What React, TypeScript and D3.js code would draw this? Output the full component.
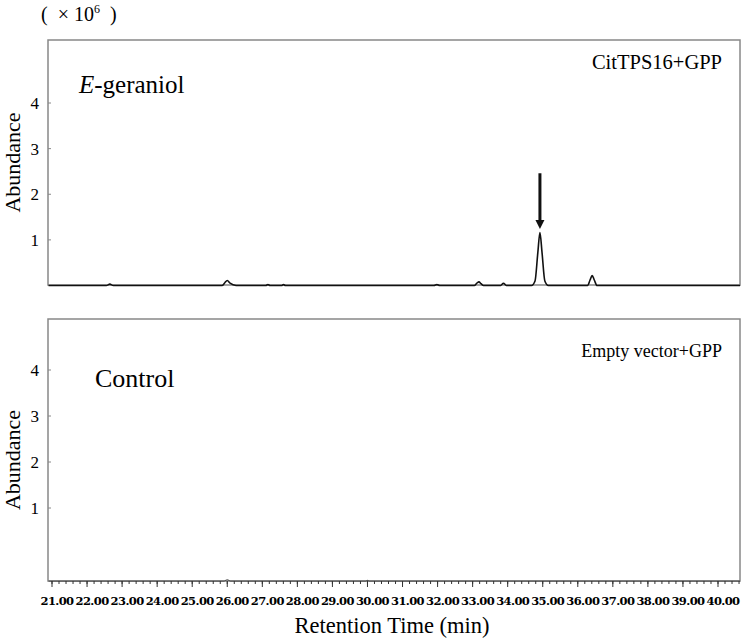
import React from 'react';
import * as d3 from 'd3';

// trace (time in min, abundance in 10^6)
const geraniolTime = [
  20.9, 22.55, 22.65, 22.75, 25.85, 25.93, 26.0, 26.08, 26.25, 27.1, 27.16, 27.22,
  27.55, 27.6, 27.66, 31.9, 31.98, 32.06, 33.05, 33.12, 33.18, 33.24, 33.31,
  33.8, 33.88, 33.96, 34.68, 34.78, 34.86, 34.92, 34.98, 35.06, 35.16,
  36.28, 36.35, 36.41, 36.47, 36.55, 40.63,
];
const geraniolAbund = [
  0, 0, 0.03, 0, 0, 0.06, 0.11, 0.05, 0, 0, 0.02, 0,
  0, 0.02, 0, 0, 0.02, 0, 0, 0.05, 0.08, 0.04, 0,
  0, 0.05, 0, 0, 0.1, 0.72, 1.16, 0.72, 0.1, 0,
  0, 0.12, 0.22, 0.12, 0, 0,
];
const controlTime = [20.9, 25.9, 26.0, 26.1, 29.95, 30.0, 30.05, 40.63];
const controlAbund = [-0.59, -0.59, -0.56, -0.59, -0.59, -0.575, -0.59, -0.59];

const yTicks = [1, 2, 3, 4];
const xTicks = d3.range(21, 40.001, 1);
const xMinor = d3.range(21, 40.601, 0.2);
const arrowTime = 34.92;
const arrowFrom = 2.46;
const arrowTo = 1.24;

const serif = '"Liberation Serif", "Times New Roman", serif';
const nb = '\u00A0';

export default function App() {
  const left = 48;
  const right = 740;
  const x = d3.scaleLinear().domain([21, 40]).range([52, 718]);
  const x0 = x.invert(left);
  const x1 = x.invert(right);

  const top = { y0: 40, y1: 285 };
  const bot = { y0: 319, y1: 581 };
  const yTop = d3.scaleLinear().domain([0, 4]).range([285.5, 103]);
  const yBot = d3.scaleLinear().domain([0, 4]).range([554, 370]);

  const lineTop = d3
    .line<number>()
    .x((d, i) => x(geraniolTime[i]))
    .y((d) => yTop(d))
    .curve(d3.curveMonotoneX);
  const lineBot = d3
    .line<number>()
    .x((d, i) => x(controlTime[i]))
    .y((d) => yBot(d))
    .curve(d3.curveMonotoneX);

  const yAxis = (y: d3.ScaleLinear<number, number>) =>
    yTicks.map((t) => (
      <g key={t}>
        <line x1={left} x2={left + 3} y1={y(t)} y2={y(t)} stroke="#888" />
        <text x={39} y={y(t) + 6} textAnchor="end" fontSize={17}>
          {t}
        </text>
      </g>
    ));

  const ax = x(arrowTime);

  return (
    <svg width={743} height={640} style={{ display: 'block', position: 'absolute', left: 0, top: 0 }} fontFamily={serif}>
      <rect width={743} height={640} fill="#fff" />
      <text x={41} y={21} fontSize={20}>
        {`(${nb}${nb}×${nb}10`}
        <tspan fontSize={12} dy={-8}>6</tspan>
        <tspan dy={8}>{`${nb}${nb})`}</tspan>
      </text>

      {/* top panel */}
      <rect x={left} y={top.y0} width={right - left} height={top.y1 - top.y0} fill="none" stroke="#888" strokeWidth={1.5} />
      {yAxis(yTop)}
      <path d={lineTop(geraniolAbund) || ''} fill="none" stroke="#111" strokeWidth={1.6} />
      <line x1={ax} x2={ax} y1={yTop(arrowFrom)} y2={yTop(arrowTo) - 8} stroke="#111" strokeWidth={3} />
      <path d={`M${ax - 4.5},${yTop(arrowTo) - 9} L${ax + 4.5},${yTop(arrowTo) - 9} L${ax},${yTop(arrowTo)} Z`} fill="#111" />
      <text x={79} y={93} fontSize={25}>
        <tspan fontStyle="italic">E</tspan>-geraniol
      </text>
      <text x={722} y={69} fontSize={20.5} textAnchor="end">
        CitTPS16+GPP
      </text>
      <text transform={`translate(20,${(top.y0 + top.y1) / 2}) rotate(-90)`} textAnchor="middle" fontSize={22}>
        Abundance
      </text>

      {/* bottom panel */}
      <rect x={left} y={bot.y0} width={right - left} height={bot.y1 - bot.y0} fill="none" stroke="#888" strokeWidth={1.5} />
      {yAxis(yBot)}
      <path d={lineBot(controlAbund) || ''} fill="none" stroke="#555" strokeWidth={1.2} />
      <text x={95} y={387} fontSize={26}>
        Control
      </text>
      <text x={722} y={357} fontSize={18} textAnchor="end">
        Empty vector+GPP
      </text>
      <text transform={`translate(20,${(bot.y0 + bot.y1) / 2 + 10}) rotate(-90)`} textAnchor="middle" fontSize={22}>
        Abundance
      </text>

      {/* x axis */}
      {xMinor
        .filter((t) => t >= x0 && t <= x1)
        .map((t, i) => (
          <line key={'m' + i} x1={x(t)} x2={x(t)} y1={bot.y1} y2={bot.y1 + 3} stroke="#333" />
        ))}
      {xTicks.map((t) => (
        <g key={t}>
          <line x1={x(t)} x2={x(t)} y1={bot.y1} y2={bot.y1 + 6} stroke="#333" />
          <text
            x={x(t) + 5}
            y={605}
            textAnchor="middle"
            fontSize={11.5}
            fontWeight="bold"
            fontFamily='"DejaVu Serif", serif'
            letterSpacing={-0.6}
          >
            {t.toFixed(2)}
          </text>
        </g>
      ))}
      <text x={392} y={633} textAnchor="middle" fontSize={22.5}>
        Retention Time (min)
      </text>
    </svg>
  );
}
